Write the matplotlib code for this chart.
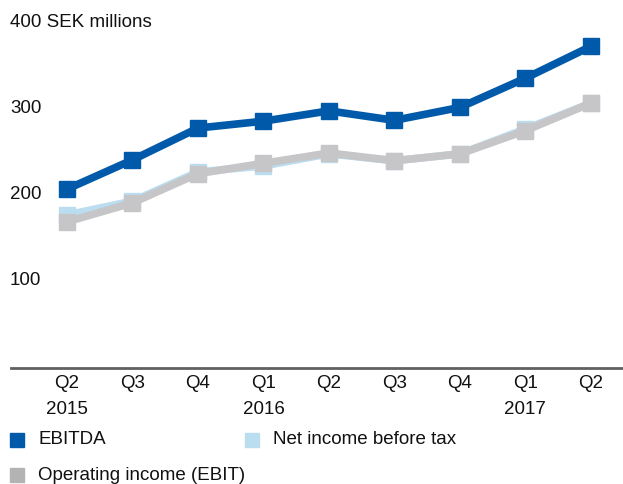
import matplotlib.pyplot as plt
from matplotlib.patches import Rectangle
from matplotlib.transforms import blended_transform_factory

plt.rcParams['font.family'] = ['Liberation Sans', 'DejaVu Sans']

quarters = ['Q2', 'Q3', 'Q4', 'Q1', 'Q2', 'Q3', 'Q4', 'Q1', 'Q2']
years = ['2015', '', '', '2016', '', '', '', '2017', '']
ebitda = [208, 242, 279, 287, 299, 288, 303, 337, 374]
net_income = [178, 194, 228, 235, 249, 241, 249, 278, 308]
ebit = [170, 192, 226, 238, 250, 241, 249, 276, 308]
yticks = [100, 200, 300, 400]

blue = '#005AA9'
light = '#BBDDF0'
gray = '#C6C6C8'
txt = '#111111'
fs = 13.5

fig = plt.figure(figsize=(6.23, 4.84), dpi=100)
ax = fig.add_axes([11 / 623, 116 / 484, 612 / 623, 344 / 484])
x = list(range(len(quarters)))

ax.plot(x, net_income, color=light, lw=5.5, marker='s', ms=11, mec=light, zorder=2)
ax.plot(x, ebit, color=gray, lw=5.5, marker='s', ms=11, mec=gray, zorder=3)
ax.plot(x, ebitda, color=blue, lw=5.5, marker='s', ms=11, mec=blue, zorder=4)

ax.set_xlim(-0.855, 8.49)
ax.set_ylim(0, 400)
for s in ['top', 'right', 'left']:
    ax.spines[s].set_visible(False)
ax.spines['bottom'].set_color('#606060')
ax.spines['bottom'].set_linewidth(2)
ax.set_yticks([])
ax.set_xticks([])

# y labels, left-aligned at the figure edge
tr = blended_transform_factory(fig.transFigure, ax.transData)
for v in yticks:
    lab = '400 SEK millions' if v == 400 else str(v)
    ax.text(10 / 623, v + 2, lab, transform=tr, ha='left', va='center', fontsize=fs,
            color=txt)

trx = blended_transform_factory(ax.transData, fig.transFigure)
for i, (q, yr) in enumerate(zip(quarters, years)):
    ax.text(i, 1 - 383 / 484, q, transform=trx, ha='center', va='center', fontsize=fs,
            color=txt)
    if yr:
        ax.text(i, 1 - 409 / 484, yr, transform=trx, ha='center', va='center', fontsize=fs,
                color=txt)

legend_items = [('EBITDA', blue, 10, 440), ('Net income before tax', light, 245, 440),
                ('Operating income (EBIT)', '#B3B3B3', 10, 475)]
for name, c, px, py in legend_items:
    fig.patches.append(Rectangle((px / 623, 1 - (py + 7) / 484), 14 / 623, 14 / 484,
                                 transform=fig.transFigure, color=c))
    fig.text((px + 28) / 623, 1 - py / 484, name, ha='left', va='center', fontsize=fs,
             color=txt)

fig.savefig('out.png', dpi=100)
